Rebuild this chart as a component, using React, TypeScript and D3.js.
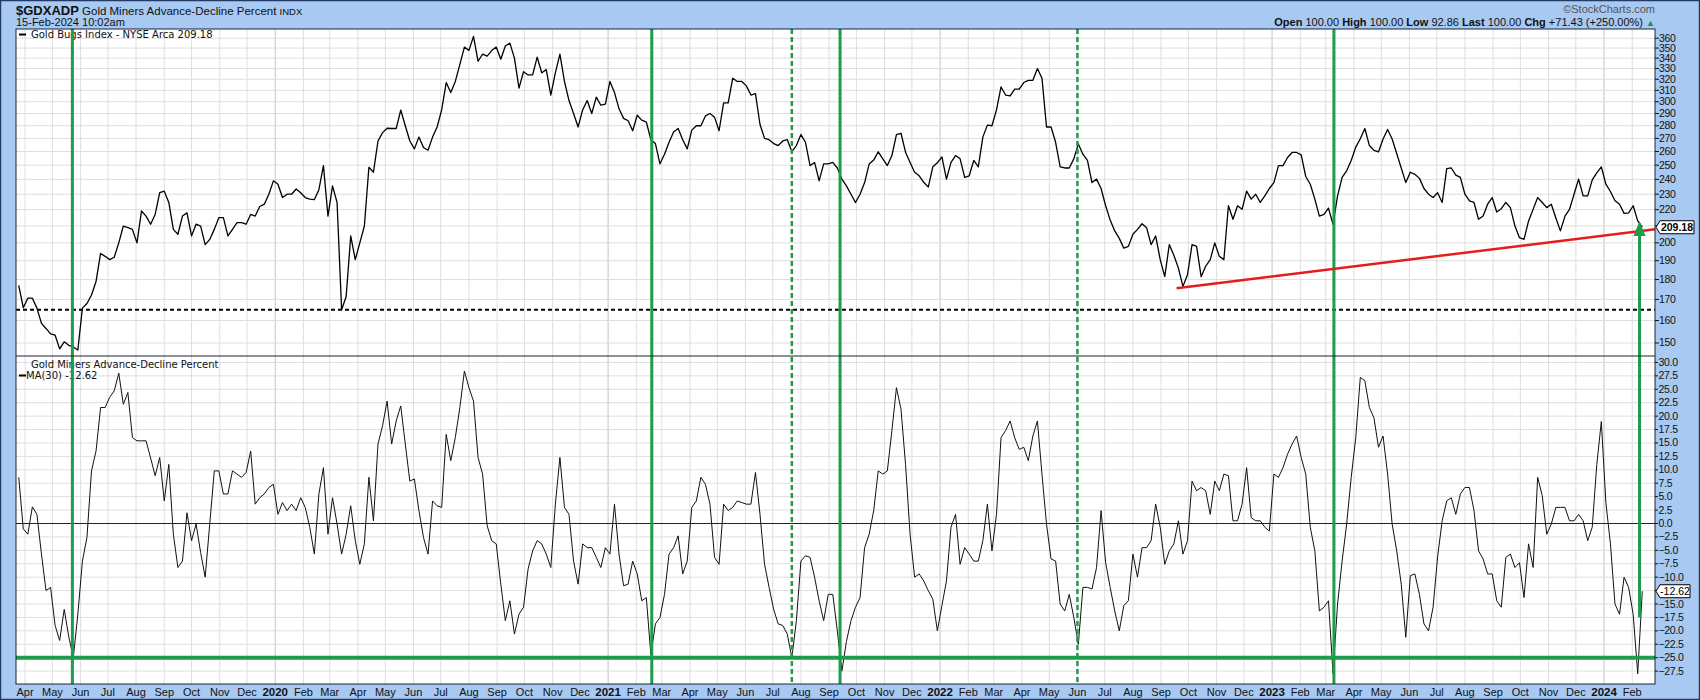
import React from "react";
import * as d3 from "d3";

// ---------- data ----------
const START_DATE = "2019-03-25";
const STEP_DAYS = 5;

const goldBugsIndex = [
  177, 166, 170.6, 170.6, 165.8, 158.7, 156.4, 154, 153.4, 147.5,
  150.5, 149, 148.3, 147, 165.8, 168, 172.2, 179, 194, 192.4,
  190.6, 191.9, 200, 209.9, 208.9, 207.9, 200, 219.2, 216, 211,
  217, 231, 232, 224.6, 207.9, 205, 216, 218, 204, 211,
  209.9, 199, 202, 207.9, 215, 215, 204, 207.9, 212, 212,
  211, 217, 216, 222, 223.5, 230, 239, 236.7, 227.8, 230,
  230, 233.5, 231, 227.8, 226.8, 226.4, 233, 249.7, 216, 235.6,
  224.6, 165, 171.4, 204, 190.6, 200, 209.9, 248.5, 245, 268,
  274.5, 278, 277.8, 277.8, 292.9, 280, 268, 262, 271, 263,
  261, 271, 279, 293, 317, 308, 318, 334, 351, 347.7,
  362, 337, 344, 342, 347.5, 351, 339, 352, 355, 340,
  312, 327, 324, 324, 341, 326, 329, 305.8, 326, 344,
  318, 301, 290, 279, 293, 301, 290, 304, 297, 298,
  318, 308, 294, 286, 284, 276, 288.6, 284.5, 283, 269,
  266, 251, 258, 267, 275, 277.8, 269, 262, 276.5, 280,
  280, 288, 290, 287, 276, 299, 299, 321, 318, 318,
  314, 305.8, 307, 281, 270, 269, 266, 264.5, 268, 269,
  260, 264.5, 273, 267, 249.7, 252, 239, 251, 251, 252,
  248, 240.2, 235.6, 230, 224.6, 230, 237.8, 250.8, 253.7, 259.8,
  254.6, 249.7, 257, 273, 274, 259.5, 252, 245, 242.5, 238,
  234.7, 248.8, 251.7, 256, 240.2, 252, 257, 254.6, 241.4, 242.5,
  253.4, 248.8, 271, 280.5, 280, 293, 313, 305.8, 305, 311,
  311, 317, 319, 319, 330, 321, 279, 279, 267, 248.8,
  248, 248, 254.6, 265.7, 258, 253.4, 237.8, 240.2, 233.8, 222.5,
  213.5, 207, 202.6, 197, 198, 205, 207.9, 211.3, 208.9, 199,
  204, 190.6, 181.5, 199, 193, 186, 176.5, 182.5, 199, 198,
  181.5, 187, 190.6, 200, 192.4, 190.6, 222.5, 214, 222.5, 220.2,
  232, 226.8, 230, 224.6, 228.9, 233.8, 237.8, 249.7, 249.7, 255.6,
  259.3, 259.3, 257.5, 242, 236.7, 226.8, 216, 217, 221, 211,
  228.9, 241.4, 246, 253.4, 263.3, 269.7, 277.8, 264.5, 260.9, 259.7,
  269.5, 277, 269.5, 258.5, 248, 237.8, 245, 243.5, 240.7, 233.8,
  230, 227.8, 231, 224.6, 247.5, 248, 243, 241.4, 230, 225.7,
  224.6, 214, 216, 223.5, 227.8, 218.5, 220.6, 224.6, 221.3, 209.9,
  203, 202, 213, 220.2, 227.8, 224.6, 221.3, 223.5, 214.8, 207,
  216, 220.2, 230, 240.2, 228.9, 228.9, 239.7, 244.5, 248.8, 236.7,
  231.8, 225.7, 223.5, 217.7, 218, 222.5, 213, 209.18,
];

const adPercentMA = [
  8.6, -1, -2, 3.1, 1.7, -5.7, -12.5, -11.9, -19, -21.8,
  -16, -21.1, -25, -16.9, -7, -2.6, 9.8, 13.5, 21.6, 21.6,
  23.5, 24.7, 28, 22.2, 24.4, 16, 15.4, 15.4, 15.4, 12.2,
  8.9, 12.3, 4.2, 11, -2, -8.2, -7, 2, -3.2, -0.1,
  -5.4, -10, -0.1, 9.8, 9.8, 5.5, 5.5, 9.8, 9.2, 8.6,
  9.5, 13.5, 3.6, 4.8, 5.5, 6.7, 7.3, 1.7, 3.9, 2.4,
  3.6, 2.4, 4.8, 3, -0.7, -5.7, 5.5, 10.4, -2, 4.8,
  -0.1, -5.7, -2, 3.3, -3.2, -7.6, -3.8, 8.6, 0.5, 14.8,
  18.2, 22.8, 14.8, 19.1, 21.9, 14.8, 7.9, 8.3, 2.4, -2.6,
  -5.7, 4.2, 3.3, 3, 16.6, 11.7, 16, 21.6, 28.4, 25.3,
  22.8, 12.3, 9.2, -0.4, -3.2, -3.8, -11.3, -18.1, -14.4, -20.6,
  -16.9, -15.6, -8.5, -5.1, -3.2, -3.8, -5.7, -8.2, 3.6, 12.3,
  3, 1.7, -7, -11.3, -3.8, -4.5, -4.5, -6.3, -8.2, -4.5,
  -5.7, 3.6, -5.7, -11.6, -11.3, -7, -9.4, -14.4, -13.8, -24.5,
  -18.7, -17.5, -13.2, -5.7, -4.5, -2.3, -9.4, -7, 3, 4.2,
  8.6, 7.3, 3.6, -6.3, -7.6, 3.6, 2.4, 3, 4.2, 3.9,
  3.6, 3.6, 9.5, 1.7, -7.6, -11.9, -16, -18.7, -19, -20.6,
  -25, -18.1, -7, -6, -6.3, -10, -14.4, -18.1, -13.2, -13.2,
  -20, -27.5, -22, -18.1, -15.6, -13.8, -4.5, -2, 2.4, 9.8,
  9.2, 9.8, 17.3, 25.3, 21.3, 11, -2, -10, -9.4, -10.7,
  -12.5, -14.1, -20, -15.3, -10.7, -0.7, 1.7, -7.6, -4.5, -5.7,
  -7, -7, -3.2, 3.6, -5.1, 1.7, 16, 17.3, 19.1, 16,
  13.8, 14.2, 11.7, 16.3, 19.1, 9.2, -0.1, -6.6, -7, -15,
  -16.3, -13.2, -17.5, -22.5, -11.9, -11.9, -12.2, -8.2, 2.4, -7.3,
  -11.9, -16.3, -20, -15.3, -14.4, -5.7, -10, -4.5, -4.5, -3.2,
  3.6, -0.7, -7.6, -5.1, -3.8, 0.5, -5.7, -3.2, 7.9, 6.1,
  6.7, 6.1, 1.7, 7.9, 6.1, 9.2, 8.9, 0.5, 0.5, 3.6,
  10.4, 1.1, 0.5, 0.5, -0.7, -1.4, 9.2, 8.6, 10.4, 12.9,
  14.8, 16.3, 12.3, 9.2, -0.7, -5.1, -16.3, -15.6, -14.4, -28,
  -15, -7, -0.1, 8.6, 16, 27.2, 26.6, 21.6, 19.7, 14.2,
  16.3, 9.2, -0.1, -5.1, -11.3, -21.2, -9.7, -9.4, -13.2, -18.7,
  -20, -15.6, -6.2, 0.5, 4.2, 4.8, 1.7, 5.5, 6.7, 6.7,
  2.4, -5.1, -6.6, -9.4, -9.4, -14.4, -15.6, -6.3, -5.7, -8.2,
  -7.3, -13.8, -3.8, -8.2, 8.6, 5.2, -2, -0.1, 3, 3,
  3, 0.5, 0.5, 1.7, 0.5, -3.2, -0.7, 11, 19, 3.9,
  -3.8, -15, -16.9, -10, -11.9, -16.9, -28, -12.62,
];

const priceTicks = [150, 160, 170, 180, 190, 200, 210, 220, 230, 240, 250, 260, 270, 280, 290, 300, 310, 320, 330, 340, 350, 360];
const oscTicks = [30, 27.5, 25, 22.5, 20, 17.5, 15, 12.5, 10, 7.5, 5, 2.5, 0, -2.5, -5, -7.5, -10, -12.5, -15, -17.5, -20, -22.5, -25, -27.5];

const solidSignalDates = ["2019-05-23", "2021-02-18", "2021-09-13", "2023-03-10"];
const dottedSignalDates = ["2021-07-22", "2022-06-01"];
const arrowSignal = { date: "2024-02-09", from: -17.5, to: 213 };
const trendLine: [string, number][] = [["2022-09-18", 175.5], ["2024-02-26", 208]];
const supportLevel = 165;
const oscSignalLevel = -25;
const lastPrice = 209.18;
const lastOsc = -12.62;

// ---------- layout ----------
const W = 1700, H = 700;
const L = 16, R = 1655;
const T1 = 29, B1 = 356, B2 = 684;
const BG = "#a7c9f2";
const GREEN = "#1e9b4b";
const FONT = "'Liberation Sans', Arial, sans-serif";
const LFONT = "'DejaVu Sans', Verdana, sans-serif";

export default function App() {
  const parse = d3.timeParse("%Y-%m-%d");
  const start = parse(START_DATE)!;
  const dates = goldBugsIndex.map((_, i) => d3.timeDay.offset(start, i * STEP_DAYS));

  const x = d3.scaleTime().domain([parse("2019-03-22")!, parse("2024-02-26")!]).range([L, R]);
  const yP = d3.scaleLog().domain([144.5, 369.7]).range([B1, T1]);
  const yO = d3.scaleLinear().domain([-29.9, 31.2]).range([B2, B1]);

  const priceLine = d3.line<number>().x((_, i) => x(dates[i])).y((d) => yP(d))(goldBugsIndex) || "";
  const oscLine = d3.line<number>().x((_, i) => x(dates[i])).y((d) => yO(d))(adPercentMA) || "";

  const months = d3.timeMonth.range(new Date(2019, 3, 1), new Date(2024, 1, 27));
  const fmtMonth = d3.timeFormat("%b");

  const tX = x(parse(trendLine[0][0])!), tY = yP(trendLine[0][1]);
  const tX2 = x(parse(trendLine[1][0])!), tY2 = yP(trendLine[1][1]);

  const ax = x(parse(arrowSignal.date)!);
  const aTop = yP(arrowSignal.to);
  const aBot = yO(arrowSignal.from);

  const yLast = yP(lastPrice);
  const yLastO = yO(lastOsc);

  return (
    <svg width={W} height={H} style={{ position: "absolute", left: 0, top: 0, display: "block" }} fontFamily={FONT}>
      <rect x={0} y={0} width={W} height={H} fill={BG} />
      <rect x={0.5} y={0.5} width={W - 1} height={H - 1} fill="none" stroke="#243a66" strokeWidth={1.5} />

      {/* header */}
      <text x={16} y={15} fontSize={13} fontWeight="bold" fill="#111">
        $GDXADP
        <tspan fontWeight="normal" fontSize={11.5}> Gold Miners Advance-Decline Percent </tspan>
        <tspan fontWeight="normal" fontSize={9.5}>INDX</tspan>
      </text>
      <text x={16} y={26} fontSize={11} fill="#111">15-Feb-2024 10:02am</text>
      <text x={1655} y={13} fontSize={11} fill="#555" textAnchor="end">©StockCharts.com</text>
      <text x={1655} y={26} fontSize={11} fill="#111" textAnchor="end">
        <tspan fontWeight="bold">Open</tspan><tspan> 100.00 </tspan>
        <tspan fontWeight="bold">High</tspan><tspan> 100.00 </tspan>
        <tspan fontWeight="bold">Low</tspan><tspan> 92.86 </tspan>
        <tspan fontWeight="bold">Last</tspan><tspan> 100.00 </tspan>
        <tspan fontWeight="bold">Chg</tspan><tspan> +71.43 (+250.00%) </tspan>
        <tspan fill="#2d8b57" fontSize={9}>▲</tspan>
      </text>

      {/* plot backgrounds */}
      <rect x={L} y={T1} width={R - L} height={B2 - T1} fill="#fff" />

      {/* month gridlines */}
      {months.map((m, i) => (
        <line key={"vg" + i} x1={x(m)} x2={x(m)} y1={T1} y2={B2}
          stroke={m.getMonth() === 0 ? "#c4c4c4" : "#dedede"} strokeWidth={1} />
      ))}
      {/* horizontal gridlines */}
      {priceTicks.map((t) => (
        <line key={"hp" + t} x1={L} x2={R} y1={yP(t)} y2={yP(t)} stroke="#dedede" />
      ))}
      {oscTicks.map((t) => (
        <line key={"ho" + t} x1={L} x2={R} y1={yO(t)} y2={yO(t)} stroke="#dedede" />
      ))}
      <line x1={L} x2={R} y1={yO(0)} y2={yO(0)} stroke="#222" strokeWidth={1.2} />

      {/* data lines */}
      <path d={priceLine} fill="none" stroke="#000" strokeWidth={1.3} strokeLinejoin="round" />
      <path d={oscLine} fill="none" stroke="#111" strokeWidth={1} strokeLinejoin="round" />

      {/* legends */}
      <line x1={19} x2={26} y1={34.5} y2={34.5} stroke="#000" strokeWidth={2} />
      <text x={31} y={38} fontSize={10} fontFamily={LFONT} fill="#111">Gold Bugs Index - NYSE Arca 209.18</text>
      <text x={31} y={368} fontSize={10} fontFamily={LFONT} fill="#111">Gold Miners Advance-Decline Percent</text>
      <line x1={19} x2={26} y1={375.5} y2={375.5} stroke="#000" strokeWidth={2} />
      <text x={26} y={379} fontSize={10} fontFamily={LFONT} fill="#111">MA(30) -12.62</text>

      {/* support & signal levels */}
      <line x1={L} x2={R} y1={yP(supportLevel)} y2={yP(supportLevel)} stroke="#000" strokeWidth={2} strokeDasharray="4 3" />
      <line x1={L} x2={R} y1={yO(oscSignalLevel)} y2={yO(oscSignalLevel)} stroke={GREEN} strokeWidth={4} />

      {/* vertical signal lines */}
      {solidSignalDates.map((d) => (
        <line key={"s" + d} x1={x(parse(d)!)} x2={x(parse(d)!)} y1={T1} y2={B2} stroke={GREEN} strokeWidth={3} />
      ))}
      {dottedSignalDates.map((d) => (
        <line key={"d" + d} x1={x(parse(d)!)} x2={x(parse(d)!)} y1={T1} y2={B2} stroke={GREEN} strokeWidth={2.5} strokeDasharray="5 3" />
      ))}

      {/* trend line */}
      <line x1={tX} y1={tY} x2={tX2} y2={tY2} stroke="#e51c1c" strokeWidth={2.5} />

      {/* arrow */}
      <line x1={ax} x2={ax} y1={aBot} y2={aTop + 12} stroke={GREEN} strokeWidth={3} />
      <polygon points={`${ax},${aTop} ${ax - 6},${aTop + 15} ${ax + 6},${aTop + 15}`} fill={GREEN} />

      {/* frames */}
      <rect x={L} y={T1} width={R - L} height={B2 - T1} fill="none" stroke="#1b2436" strokeWidth={1} />
      <line x1={L} x2={R} y1={B1} y2={B1} stroke="#1b2436" strokeWidth={1.2} />

      {/* right axes (labels hidden behind the last-value tags are skipped) */}
      {priceTicks.map((t) => (
        <g key={"pt" + t}>
          <line x1={R} x2={R + 4} y1={yP(t)} y2={yP(t)} stroke="#111" />
          {Math.abs(yP(t) - yLast) > 9 && (
            <text x={R + 4} y={yP(t) + 3.5} fontSize={10.5} fill="#111" letterSpacing={-0.3}>{t}</text>
          )}
        </g>
      ))}
      {oscTicks.map((t) => (
        <g key={"ot" + t}>
          <line x1={R} x2={R + 3} y1={yO(t)} y2={yO(t)} stroke="#111" />
          {Math.abs(yO(t) - yLastO) > 9 && (
            <text x={R + 3.5} y={yO(t) + 3.5} fontSize={10.5} fill="#111" letterSpacing={-0.3}>{d3.format(".1f")(t)}</text>
          )}
        </g>
      ))}

      {/* last value tags */}
      <polygon points={`${R + 1},${yLast} ${R + 5},${yLast - 6.5} ${R + 39},${yLast - 6.5} ${R + 39},${yLast + 6.5} ${R + 5},${yLast + 6.5}`}
        fill="#fff" stroke="#000" strokeWidth={1} />
      <text x={R + 22} y={yLast + 4} fontSize={10.5} fontWeight="bold" textAnchor="middle" fill="#000">{lastPrice.toFixed(2)}</text>
      <polygon points={`${R + 1},${yLastO} ${R + 5},${yLastO - 6.5} ${R + 35},${yLastO - 6.5} ${R + 35},${yLastO + 6.5} ${R + 5},${yLastO + 6.5}`}
        fill="#fff" stroke="#000" strokeWidth={1} />
      <text x={R + 20} y={yLastO + 4} fontSize={10.5} textAnchor="middle" fill="#000">{lastOsc.toFixed(2)}</text>

      {/* x axis labels */}
      {months.map((m, i) => {
        const jan = m.getMonth() === 0;
        return (
          <text key={"xl" + i} x={x(m)} y={696} fontSize={jan ? 11.5 : 11} fontWeight={jan ? "bold" : "normal"}
            textAnchor="middle" fill="#111">
            {jan ? m.getFullYear() : fmtMonth(m)}
          </text>
        );
      })}
    </svg>
  );
}
